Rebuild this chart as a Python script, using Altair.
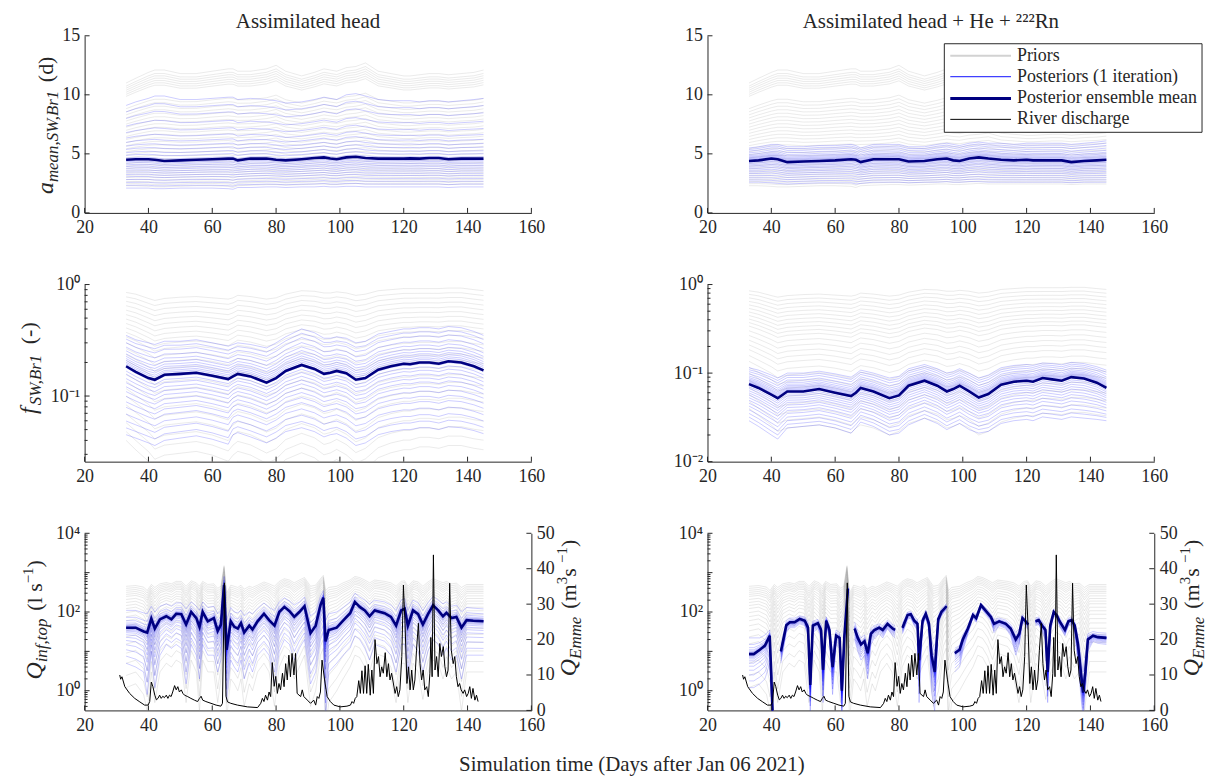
import math
import altair as alt
import pandas as pd

FONT = "Liberation Serif"
INK = "#262626"
W, H = 449, 178

# ---------------- data ----------------
X_TICKS = [20, 40, 60, 80, 100, 120, 140, 160]

# knots for the top and middle rows (days)
t_s = [33, 36, 40, 42, 45, 50, 55, 60, 65, 66.5, 68, 72, 77, 80, 83, 88, 92, 95, 97, 99,
       102, 105, 108, 112, 116, 120, 122, 125, 128, 131, 134, 138, 142, 145]

# a_mean,SW,Br1 (d)
a_prior_lo = [2.3, 2.3, 2.25, 2.2, 2.2, 2.25, 2.3, 2.3, 2.25, 2.15, 2.3, 2.35, 2.4, 2.4, 2.35, 2.4, 2.45,
              2.45, 2.4, 2.4, 2.45, 2.5, 2.45, 2.45, 2.45, 2.45, 2.45, 2.45, 2.45, 2.45, 2.4, 2.45, 2.45, 2.45]
a_prior_hi = [11.0, 11.4, 11.9, 12.1, 12.1, 11.8, 11.8, 12.0, 12.2, 12.2, 12.0, 12.0, 12.2, 12.5, 12.0, 11.6,
              11.9, 12.2, 12.1, 12.0, 12.3, 12.4, 12.7, 12.0, 11.8, 11.6, 11.6, 11.7, 11.8, 11.8, 11.7, 11.8, 11.9, 12.1]
a_prior_f = [0, .02, .04, .06, .08, .1, .12, .14, .165, .19, .215, .24, .27, .3, .33, .36, .39, .42, .45,
             .48, .51, .54, .57, .6, .63, .66, .69, .72, .75, .87, .89, .91, .93, .95, .97, 1.0]

a_mean_head = [4.5, 4.55, 4.55, 4.5, 4.4, 4.45, 4.5, 4.55, 4.6, 4.6, 4.45, 4.6, 4.6, 4.5, 4.45, 4.55, 4.65,
               4.7, 4.6, 4.55, 4.7, 4.75, 4.65, 4.6, 4.6, 4.6, 4.62, 4.6, 4.65, 4.65, 4.55, 4.6, 4.6, 4.6]
a_post_hi_head = [9.1, 9.4, 9.7, 9.9, 9.9, 9.6, 9.6, 9.7, 9.8, 9.8, 9.6, 9.7, 9.6, 9.5, 9.3, 9.4, 9.6, 9.8,
                  9.7, 9.6, 10.0, 10.1, 9.9, 9.6, 9.5, 9.5, 9.5, 9.4, 9.5, 9.5, 9.4, 9.5, 9.6, 9.7]
a_post_lo_head = [2.1, 2.1, 2.1, 2.05, 2.05, 2.1, 2.1, 2.1, 2.05, 2.0, 2.15, 2.15, 2.2, 2.2, 2.15, 2.2, 2.2,
                  2.25, 2.2, 2.2, 2.25, 2.25, 2.2, 2.2, 2.2, 2.2, 2.2, 2.2, 2.2, 2.2, 2.15, 2.2, 2.2, 2.2]

a_mean_all = [4.4, 4.45, 4.6, 4.55, 4.3, 4.35, 4.4, 4.45, 4.55, 4.5, 4.3, 4.55, 4.55, 4.55, 4.35, 4.4, 4.55,
              4.6, 4.45, 4.4, 4.6, 4.7, 4.6, 4.5, 4.45, 4.5, 4.45, 4.45, 4.45, 4.45, 4.3, 4.4, 4.45, 4.5]
a_post_hi_all = [5.5, 5.6, 5.8, 5.8, 5.6, 5.6, 5.7, 5.7, 5.8, 5.7, 5.5, 5.8, 5.8, 5.8, 5.6, 5.6, 5.8, 5.9,
                 5.8, 5.7, 5.9, 6.0, 5.9, 5.9, 5.8, 5.9, 5.9, 5.9, 5.9, 5.9, 5.8, 5.9, 6.0, 6.1]
a_post_lo_all = [2.6, 2.6, 2.55, 2.5, 2.45, 2.5, 2.55, 2.55, 2.55, 2.45, 2.5, 2.6, 2.6, 2.6, 2.55, 2.6, 2.6,
                 2.65, 2.6, 2.6, 2.65, 2.65, 2.6, 2.6, 2.6, 2.6, 2.6, 2.6, 2.6, 2.6, 2.55, 2.6, 2.6, 2.6]

# f_SW,Br1 (-)
f_prior_hi = [0.85, 0.82, 0.75, 0.72, 0.75, 0.77, 0.78, 0.76, 0.74, 0.76, 0.8, 0.78, 0.74, 0.76, 0.82, 0.88,
              0.87, 0.84, 0.84, 0.86, 0.84, 0.8, 0.82, 0.88, 0.9, 0.92, 0.92, 0.92, 0.92, 0.92, 0.93, 0.93, 0.9, 0.88]
f_prior_lo = [0.04, 0.033, 0.026, 0.022, 0.024, 0.025, 0.026, 0.024, 0.021, 0.024, 0.026, 0.024, 0.02, 0.022,
              0.027, 0.031, 0.028, 0.024, 0.025, 0.027, 0.024, 0.02, 0.022, 0.028, 0.031, 0.033, 0.033, 0.035,
              0.035, 0.034, 0.036, 0.036, 0.034, 0.033]
f_prior_f = [0, .06, .12, .18, .24, .3, .35, .4, .45, .5, .54, .58, .62, .66, .7, .73, .76, .79, .82, .85,
             .88, .91, .94, .97, 1.0]

f_mean_head = [0.185, 0.165, 0.145, 0.14, 0.155, 0.158, 0.162, 0.152, 0.142, 0.15, 0.158, 0.15, 0.132, 0.145,
               0.168, 0.19, 0.175, 0.158, 0.162, 0.168, 0.16, 0.14, 0.145, 0.172, 0.185, 0.195, 0.193, 0.2,
               0.2, 0.195, 0.205, 0.2, 0.185, 0.17]
f_post_hi_head = [0.35, 0.32, 0.3, 0.29, 0.31, 0.31, 0.32, 0.3, 0.28, 0.29, 0.3, 0.29, 0.27, 0.3, 0.34, 0.4,
                  0.37, 0.33, 0.33, 0.34, 0.33, 0.3, 0.31, 0.36, 0.38, 0.4, 0.4, 0.41, 0.41, 0.4, 0.42, 0.41,
                  0.38, 0.35]
f_post_lo_head = [0.045, 0.042, 0.038, 0.036, 0.04, 0.042, 0.044, 0.041, 0.037, 0.045, 0.047, 0.043, 0.038,
                  0.042, 0.048, 0.052, 0.048, 0.043, 0.045, 0.046, 0.042, 0.036, 0.038, 0.045, 0.048, 0.05,
                  0.05, 0.052, 0.052, 0.05, 0.053, 0.052, 0.049, 0.046]

f_mean_all = [0.075, 0.068, 0.057, 0.052, 0.062, 0.062, 0.066, 0.06, 0.055, 0.06, 0.068, 0.062, 0.052, 0.056,
              0.072, 0.082, 0.072, 0.062, 0.066, 0.072, 0.062, 0.053, 0.058, 0.074, 0.08, 0.082, 0.08, 0.088,
              0.085, 0.082, 0.09, 0.087, 0.078, 0.068]
f_post_hi_all = [0.115, 0.108, 0.095, 0.088, 0.1, 0.1, 0.105, 0.098, 0.09, 0.098, 0.108, 0.1, 0.088, 0.092,
                 0.112, 0.125, 0.112, 0.1, 0.104, 0.112, 0.1, 0.088, 0.095, 0.115, 0.122, 0.125, 0.122, 0.13,
                 0.128, 0.124, 0.132, 0.128, 0.118, 0.108]
f_post_lo_all = [0.029, 0.025, 0.02, 0.018, 0.024, 0.025, 0.026, 0.024, 0.021, 0.024, 0.028, 0.025, 0.02,
                 0.021, 0.026, 0.031, 0.027, 0.023, 0.025, 0.027, 0.023, 0.021, 0.022, 0.027, 0.029, 0.03,
                 0.029, 0.032, 0.031, 0.03, 0.032, 0.031, 0.03, 0.029]

# posterior member positions inside the read envelope (-1 = lowest, 0 = mean, 1 = highest)
post_u = [-1, -0.9, -0.8, -0.7, -0.6, -0.52, -0.44, -0.37, -0.3, -0.24, -0.18, -0.12, -0.07, -0.02, 0.03,
          0.08, 0.13, 0.19, 0.25, 0.32, 0.4, 0.5, 0.62, 0.76, 0.88, 1]
post_u_q = [-1, -0.8, -0.62, -0.48, -0.36, -0.27, -0.2, -0.14, -0.1, -0.07, -0.045, -0.025, -0.01, 0.0,
            0.015, 0.035, 0.06, 0.09, 0.13, 0.19, 0.27, 0.4, 0.6, 1]

# Q_inf,top (l s^-1) -- assimilated head
t_qh = [33, 36, 38.5, 39.6, 40.9, 42, 43.6, 45.6, 47.2, 48.7, 50.3, 51.8, 53.4, 55, 56, 57, 58.6, 60.5,
        61.7, 62.7, 63.7, 64.5, 65.8, 66.9, 68, 69, 70, 71.6, 72.6, 74.2, 76.2, 77.8, 79.5, 81, 82.6, 84.2,
        85.7, 87.3, 88.9, 90.8, 92.4, 93.9, 94.8, 95.5, 96.5, 99, 101, 103.2, 104.7, 106.2, 107.8, 109.3,
        110.9, 114, 116, 117.6, 119.2, 120.3, 121.3, 122.9, 124.5, 126, 127.6, 129.2, 130.8, 132.3, 133.4,
        135, 136.5, 138.1, 139.7, 141.8, 145]
q_mean_head = [40, 40, 32, 30, 68, 38, 65, 78, 65, 90, 88, 48, 100, 70, 42, 100, 58, 70, 33, 48, 480, 11,
               58, 42, 38, 52, 30, 45, 36, 58, 90, 62, 45, 100, 135, 105, 75, 100, 140, 29, 45, 148, 230, 18,
               35, 40, 60, 93, 180, 135, 110, 78, 110, 93, 75, 45, 110, 120, 45, 110, 88, 48, 88, 148, 110,
               78, 95, 70, 75, 40, 62, 60, 58]
q_hi_head = [110, 110, 95, 90, 140, 100, 140, 160, 140, 170, 170, 120, 180, 140, 110, 180, 130, 140, 90, 110,
             800, 60, 130, 100, 95, 110, 80, 100, 90, 120, 170, 130, 110, 180, 230, 190, 150, 180, 240, 80,
             100, 250, 350, 60, 90, 100, 130, 180, 300, 240, 200, 160, 200, 180, 150, 110, 200, 220, 110, 200,
             170, 110, 170, 250, 200, 160, 180, 140, 150, 100, 130, 125, 120]
q_lo_head = [5, 4, 3, 0.8, 10, 1.2, 8, 15, 12, 15, 12, 1.5, 15, 8, 2, 15, 8, 8, 3, 6, 100, 0.6, 6, 4, 3, 6,
             2, 5, 3, 8, 12, 8, 1.5, 10, 20, 15, 6, 12, 20, 1.5, 3, 20, 30, 0.2, 3, 5, 8, 12, 25, 20, 12, 6,
             15, 12, 8, 3, 15, 15, 2, 15, 10, 3, 10, 20, 15, 8, 12, 6, 8, 2, 8, 8, 8]
# priors (same ensemble in both columns), on the t_qh knots
q_prior_hi = [450, 470, 430, 350, 500, 420, 520, 560, 520, 600, 600, 450, 620, 550, 450, 600, 500, 520, 400,
              450, 1500, 300, 480, 450, 420, 480, 380, 450, 420, 480, 580, 520, 450, 600, 700, 650, 550, 650,
              750, 450, 480, 700, 850, 350, 420, 450, 550, 650, 800, 750, 650, 550, 650, 600, 550, 450, 600,
              620, 450, 620, 580, 450, 580, 700, 620, 550, 600, 520, 540, 420, 500, 500, 500]
q_prior_lo = [1.2, 1.5, 0.8, 0.3, 3, 0.5, 3, 5, 4, 6, 5, 0.5, 6, 3, 0.3, 6, 3, 3, 0.5, 2, 40, 0.2, 2, 1.5, 1,
              2, 0.4, 1.5, 1, 3, 5, 3, 0.4, 4, 8, 6, 2, 4, 8, 0.4, 1, 8, 12, 0.1, 0.5, 1, 2, 4, 8, 7, 4, 1.5,
              5, 4, 2, 0.5, 5, 5, 0.5, 5, 3, 0.6, 3, 6, 5, 2, 4, 2, 3, 0.3, 3, 3, 3]
q_prior_f = [0, .12, .24, .34, .43, .5, .56, .61, .66, .7, .74, .78, .81, .84, .87, .9, .92, .94, .96, .98, 1.0]

# Q_inf,top -- head + He + 222Rn (None = gap in the record)
t_qa = [33, 34.5, 36.4, 38, 39.5, 40.4, 40.6, 43, 44.7, 45.8, 47.3, 48.9, 50.5, 51.5, 52.2, 53, 54.6, 55.6,
        56.2, 57.2, 58.2, 59.2, 60.3, 61.4, 62.1, 62.9, 64, 64.3, 66.1, 67.1, 68.1, 69.2, 70.2, 71.2, 72.3,
        73.8, 74.9, 76.4, 78, 78.8, 79.5, 81.1, 82.7, 83.7, 84.8, 85.8, 86.3, 87.4, 88.4, 89.4, 90.2, 91.2,
        92.3, 93.3, 94.9, 95.4, 97.5, 99, 100, 101.6, 103.2, 104.2, 105.7, 107.3, 108.8, 109.8, 111.4, 113.5,
        115, 116.6, 117.7, 118.7, 119.7, 120.5, 121.3, 122.8, 123.8, 124.9, 125.9, 126.6, 127.4, 128.5, 129.5,
        130.5, 132, 133.1, 134.1, 135.1, 136.1, 137.2, 137.7, 138.4, 139.2, 140.8, 142.3, 145]
q_mean_all = [8.5, 8.5, 11, 14, 25, 0.3, None, 10, 46, 55, 55, 67, 60, 40, 1.4, 45, 52, 35, 3.4, 60, 35, 4,
              25, 22, 1, 25, 390, None, 38, 22, 15, 18, 9, 28, 35, 40, 35, 50, 38, 35, None, 40, 84, 88, 60,
              50, 6, 60, 90, 50, 8, 3, 65, 100, 140, None, 9, 11, 20, 38, 84, 70, 150, 105, 75, 50, 58, 50,
              38, 20, 28, 70, 58, 48, None, 58, 62, 45, 35, 3, 45, 100, 80, 55, 35, 58, 62, 45, 15, 2.1, 0.9,
              3, 20, 25, 23, 22]
q_hi_all = [22, 22, 22, 26, 35, 2, None, 14, 60, 70, 70, 80, 75, 55, 4, 58, 65, 48, 8, 75, 48, 10, 35, 30, 3,
            35, 450, None, 55, 32, 22, 26, 14, 38, 45, 50, 45, 62, 48, 45, None, 52, 100, 105, 75, 65, 15, 75,
            110, 65, 20, 10, 80, 120, 165, None, 12, 14, 26, 46, 100, 85, 170, 125, 90, 65, 70, 62, 48, 30, 38,
            85, 70, 60, None, 70, 75, 56, 45, 8, 56, 120, 95, 68, 45, 70, 75, 56, 25, 6, 3, 8, 28, 32, 30, 29]
q_lo_all = [1.2, 1.2, 1.5, 2, 5, 0.1, None, 5, 30, 40, 40, 50, 45, 25, 0.3, 30, 38, 22, 0.5, 45, 22, 0.8, 15,
            12, 0.2, 15, 300, None, 20, 10, 6, 8, 2, 15, 22, 28, 22, 38, 25, 22, None, 28, 65, 70, 45, 35, 0.5,
            45, 70, 35, 1, 0.3, 50, 80, 115, None, 3, 4, 10, 28, 70, 55, 125, 85, 60, 30, 45, 38, 25, 8, 15,
            55, 45, 35, None, 45, 48, 30, 20, 0.5, 30, 80, 65, 40, 25, 45, 48, 30, 5, 0.5, 0.2, 1, 10, 18, 16, 15]

# River discharge Q_Emme (m3 s-1)
river_t = [31.0, 31.3, 31.7, 32.6, 34.1, 35.7, 37.3, 38.8, 39.9, 40.4, 40.9, 41.4, 42.0, 42.5, 43.0, 43.5,
           44.0, 44.5, 45.0, 45.6, 46.1, 46.6, 47.1, 47.6, 48.2, 48.7, 49.2, 49.7, 50.3, 50.8, 51.3, 52.3,
           53.3, 54.4, 55.4, 56.0, 56.5, 57.0, 58.0, 59.6, 61.2, 62.7, 63.2, 63.8, 64.3, 64.8, 65.8, 67.9,
           71.0, 74.2, 75.2, 75.7, 76.2, 76.7, 77.3, 77.8, 78.3, 78.8, 79.4, 79.9, 80.4, 80.9, 81.4, 82.0,
           82.5, 83.0, 83.5, 84.0, 84.5, 85.0, 85.6, 86.1, 86.6, 87.7, 88.2, 88.7, 89.8, 90.8, 91.8, 92.4,
           92.9, 93.4, 93.9, 94.4, 95.2, 96.0, 97.0, 98.1, 100.1, 102.2, 103.3, 103.8, 104.3, 104.8, 105.3,
           105.9, 106.4, 106.9, 107.4, 107.9, 108.4, 108.9, 109.5, 110.0, 110.5, 111.0, 111.6, 112.1, 112.6,
           113.1, 113.6, 114.2, 114.7, 115.2, 115.7, 116.2, 117.3, 117.8, 118.3, 118.8, 119.4, 119.9, 120.4,
           121.0, 121.5, 122.0, 122.5, 123.0, 123.5, 124.0, 124.6, 125.1, 125.6, 126.1, 126.6, 127.2, 127.7,
           128.2, 128.5, 128.9, 129.3, 129.8, 130.3, 130.8, 131.3, 131.8, 132.4, 132.9, 133.4, 133.9, 134.4,
           134.9, 135.5, 136.0, 136.5, 137.0, 137.5, 138.0, 138.6, 139.1, 139.7, 140.2, 140.7, 141.2, 141.7,
           142.3, 142.8, 143.3]
river_q = [10.0, 8.8, 9.5, 6.7, 4.8, 3.4, 2.4, 1.5, 1.5, 2.5, 8.0, 6.7, 4.3, 3.0, 3.4, 4.3, 3.4, 4.0, 3.6,
           4.3, 3.4, 4.3, 3.9, 5.2, 7.0, 5.8, 6.7, 5.2, 5.8, 4.8, 4.3, 3.9, 3.4, 2.9, 2.5, 3.4, 4.0, 2.9, 2.5,
           2.0, 1.5, 1.2, 2.0, 36.0, 4.0, 2.4, 2.0, 1.5, 1.0, 0.8, 2.0, 3.4, 2.5, 4.3, 2.9, 5.2, 3.9, 13.5,
           6.8, 9.6, 4.8, 7.6, 5.8, 10.5, 6.7, 13.2, 8.6, 15.6, 9.5, 16.1, 10.0, 16.1, 4.8, 3.9, 5.8, 3.9,
           2.9, 2.0, 2.9, 1.5, 3.9, 3.4, 5.2, 14.2, 8.6, 3.9, 2.5, 1.5, 1.0, 1.2, 1.5, 2.5, 2.0, 3.4, 3.9,
           8.4, 4.8, 11.2, 4.8, 12.6, 4.8, 13.0, 4.3, 11.4, 4.8, 20.0, 13.2, 15.2, 9.5, 12.3, 10.5, 16.3,
           9.5, 13.2, 8.6, 10.5, 4.8, 6.7, 3.9, 5.8, 15.2, 35.4, 24.6, 7.6, 12.3, 5.8, 11.4, 5.8, 8.6, 17.0,
           24.6, 13.2, 8.6, 11.4, 5.8, 6.7, 3.9, 10.5, 20.6, 9.5, 43.9, 11.4, 15.2, 9.5, 18.9, 15.2, 18.0,
           12.3, 9.5, 11.4, 35.9, 17.0, 13.2, 15.2, 9.5, 6.7, 7.6, 5.8, 4.8, 5.8, 3.9, 4.8, 6.7, 3.4, 6.2,
           2.9, 4.3, 2.5]

# ---------------- helpers ----------------
ONE = pd.DataFrame({"z": [0]})


def env_log(lo, mid, hi, u):
    out = []
    for a, m, b in zip(lo, mid, hi):
        if m is None:
            out.append(None)
            continue
        lm = math.log(m)
        edge = b if u >= 0 else a
        out.append(math.exp(lm + abs(u) * (math.log(edge) - lm)))
    return out


def env_lin(lo, mid, hi, u):
    out = []
    for a, m, b in zip(lo, mid, hi):
        edge = b if u >= 0 else a
        out.append(m + abs(u) * (edge - m))
    return out


def band_log(lo, hi, f):
    return [math.exp(math.log(a) + f * (math.log(b) - math.log(a))) for a, b in zip(lo, hi)]


def band_lin(lo, hi, f):
    return [a + f * (b - a) for a, b in zip(lo, hi)]


def to_rows(t, vals, key):
    rows, seg = [], 0
    for ti, v in zip(t, vals):
        if v is None:
            seg += 1
            continue
        rows.append({"t": ti, "v": v, "k": f"{key}_{seg}"})
    return rows


REG = {'a': 444, 'b': 500, 'c': 444, 'd': 500, 'e': 444, 'f': 333, 'i': 278, 'l': 278, 'm': 778, 'n': 500,
       'o': 500, 'p': 500, 'r': 333, 's': 389, 't': 278, ' ': 250, '(': 333, ')': 333, ',': 250, '-': 333,
       '\u2212': 564}
ITA = {'a': 500, 'e': 444, 'f': 278, 'i': 278, 'm': 722, 'n': 500, 'o': 500, 'p': 500, 'r': 389, 't': 278,
       'E': 611, 'B': 611, 'S': 500, 'W': 833, 'Q': 722, ',': 250}


def tw(s, size, italic):
    tb = ITA if italic else REG
    return sum(tb.get(c, 500) for c in s) / 1000.0 * size


def txt(s, x, y, size, italic=False, angle=None, align="left", baseline="alphabetic"):
    kw = dict(font=FONT, fontSize=size, color=INK, align=align, baseline=baseline)
    if italic:
        kw["fontStyle"] = "italic"
    if angle is not None:
        kw["angle"] = angle
    return alt.Chart(ONE).mark_text(**kw).encode(x=alt.value(x), y=alt.value(y), text=alt.value(s))


def ytitle(pieces, xb, yc):
    def wid(p):
        return p[1] if p[0] is None else tw(p[0], p[1], p[2])
    total = sum(wid(p) for p in pieces)
    y = yc + total / 2.0
    out = []
    for p in pieces:
        if p[0] is not None:
            out.append(txt(p[0], xb + p[3], y, p[1], p[2], angle=270))
        y -= wid(p)
    return out


x_axis = alt.Axis(values=X_TICKS, ticks=False, grid=False, title=None, labelFont=FONT, labelFontSize=18,
                  labelColor=INK, domainColor=INK, domainWidth=1, labelPadding=6, labelFlush=False, format="d")
x_enc = alt.X("t:Q", scale=alt.Scale(domain=[20, 160], nice=False, zero=False), axis=x_axis)

LOG_EXPR = ("datum.value >= 5000 ? '10\u2074' : datum.value >= 50 ? '10\u00b2' : datum.value >= 0.5 ? "
            "'10\u2070' : datum.value >= 0.05 ? '10\u207b\u00b9' : '10\u207b\u00b2'")


def y_axis(values, expr=None, orient="left"):
    kw = dict(values=values, ticks=False, grid=False, title=None, labelFont=FONT, labelFontSize=18,
              labelColor=INK, domainColor=INK, domainWidth=1, labelPadding=5, orient=orient)
    if expr:
        kw["labelExpr"] = expr
    return alt.Axis(**kw)


def rule_x_ticks():
    return alt.Chart(pd.DataFrame({"t": X_TICKS})).mark_rule(color=INK, strokeWidth=1).encode(
        x=x_enc, y=alt.value(H), y2=alt.value(H - 5))


def rule_y_ticks(vals, length, y_enc, field="v", right=False):
    x0 = W if right else 0
    x1 = W - length if right else length
    return alt.Chart(pd.DataFrame({field: vals})).mark_rule(color=INK, strokeWidth=1).encode(
        x=alt.value(x0), x2=alt.value(x1), y=y_enc)


def log_ticks(lo, hi):
    major, minor = [], []
    for e in range(-3, 5):
        for m in range(1, 10):
            v = m * 10.0 ** e
            if lo * 0.999 <= v <= hi * 1.001:
                (major if m == 1 else minor).append(v)
    return major, minor


def ensemble(prior_rows, post_rows, mean_rows, y_enc, post_op=0.2, prior_op=0.22):
    pri = alt.Chart(pd.DataFrame(prior_rows)).mark_line(
        clip=True, color="#9a9a9a", strokeWidth=1, opacity=prior_op).encode(x=x_enc, y=y_enc, detail="k:N")
    pos = alt.Chart(pd.DataFrame(post_rows)).mark_line(
        clip=True, color="#0000ff", strokeWidth=1, opacity=post_op).encode(x=x_enc, y=y_enc, detail="k:N")
    mea = alt.Chart(pd.DataFrame(mean_rows)).mark_line(
        clip=True, color="#000080", strokeWidth=2.6).encode(x=x_enc, y=y_enc, detail="k:N")
    return [pri, pos, mea]


def rows_prior_lin(t, lo, hi, fs):
    r = []
    for i, f in enumerate(fs):
        r += to_rows(t, band_lin(lo, hi, f), f"p{i}")
    return r


def rows_prior_log(t, lo, hi, fs):
    r = []
    for i, f in enumerate(fs):
        r += to_rows(t, band_log(lo, hi, f), f"p{i}")
    return r


def rows_post(t, lo, mid, hi, us, log):
    r = []
    for i, u in enumerate(us):
        vals = env_log(lo, mid, hi, u) if log else env_lin(lo, mid, hi, u)
        r += to_rows(t, vals, f"q{i}")
    return r


TITLE_KW = dict(font=FONT, fontSize=21, fontWeight="normal", color=INK, offset=-5)

# y-title pieces: (text, size, italic, baseline shift) ; (None, gap)
T_A = [("a", 24, True, 0), ("mean,SW,Br1", 17, True, 5), (None, 7), ("(d)", 22, False, 0)]
T_F = [("f", 24, True, 0), (None, 2), ("SW,Br1", 17, True, 5), (None, 9), ("(-)", 22, False, 0)]
T_Q = [("Q", 24, True, 0), ("inf,top", 17, True, 5), (None, 8), ("(l s", 22, False, 0),
       ("\u22121", 15, False, -9), (")", 22, False, 0)]
T_E = [("Q", 24, True, 0), ("Emme", 17, True, 5), (None, 8), ("(m", 22, False, 0), ("3", 15, False, -9),
       (" s", 22, False, 0), ("\u22121", 15, False, -9), (")", 22, False, 0)]


# ---------------- panels ----------------
def top_panel(mean, lo, hi, title, left_title, legend=False):
    y_enc = alt.Y("v:Q", scale=alt.Scale(domain=[0, 15], nice=False, zero=False),
                  axis=y_axis([0, 5, 10, 15]))
    layers = ensemble(rows_prior_lin(t_s, a_prior_lo, a_prior_hi, a_prior_f),
                      rows_post(t_s, lo, mean, hi, post_u, False),
                      to_rows(t_s, mean, "m"), y_enc, post_op=0.2, prior_op=0.2)
    layers += [rule_x_ticks(), rule_y_ticks([0, 5, 10, 15], 5, y_enc)]
    if left_title:
        layers += ytitle(T_A, -32, 90)
    if legend:
        layers.append(alt.Chart(ONE).mark_rect(fill="white", stroke=INK, strokeWidth=1).encode(
            x=alt.value(238), x2=alt.value(497), y=alt.value(8), y2=alt.value(97)))
        entries = [("Priors", "#d2d2d2", 2, 20), ("Posteriors (1 iteration)", "#4040ff", 1.2, 41),
                   ("Posterior ensemble mean", "#000080", 3, 63), ("River discharge", "#000000", 1, 84)]
        for lab, col, sw, yy in entries:
            layers.append(alt.Chart(ONE).mark_rule(color=col, strokeWidth=sw).encode(
                x=alt.value(244), x2=alt.value(305), y=alt.value(yy)))
            layers.append(txt(lab, 311, yy, 18, baseline="middle"))
    return alt.layer(*layers).properties(width=W, height=H, title=alt.TitleParams(title, **TITLE_KW))


def mid_panel(mean, lo, hi, dom, labels, left_title):
    y_enc = alt.Y("v:Q", scale=alt.Scale(type="log", domain=dom, nice=False, zero=False),
                  axis=y_axis(labels, LOG_EXPR))
    major, minor = log_ticks(dom[0], dom[1])
    layers = ensemble(rows_prior_log(t_s, f_prior_lo, f_prior_hi, f_prior_f),
                      rows_post(t_s, lo, mean, hi, post_u, True),
                      to_rows(t_s, mean, "m"), y_enc, post_op=0.2, prior_op=0.2)
    layers += [rule_x_ticks(), rule_y_ticks(major, 5, y_enc), rule_y_ticks(minor, 3, y_enc)]
    if left_title:
        layers += ytitle(T_F, -49, 84)
    return alt.layer(*layers).properties(width=W, height=H)


def bottom_panel(t, mean, lo, hi, left_title, xlabel=False):
    dom = [10 ** -0.5, 10000]
    y_enc = alt.Y("v:Q", scale=alt.Scale(type="log", domain=dom, nice=False, zero=False),
                  axis=y_axis([1, 100, 10000], LOG_EXPR))
    major, minor = log_ticks(dom[0], dom[1])
    layers = ensemble(rows_prior_log(t_qh, q_prior_lo, q_prior_hi, q_prior_f),
                      rows_post(t, lo, mean, hi, post_u_q, True),
                      to_rows(t, mean, "m"), y_enc, post_op=0.2, prior_op=0.22)
    layers += [rule_x_ticks(), rule_y_ticks(major, 5, y_enc), rule_y_ticks(minor, 3, y_enc)]
    if left_title:
        layers += ytitle(T_Q, -43, 87)
    layers += ytitle(T_E, 494, 75)
    if xlabel:
        layers.append(txt("Simulation time (Days after Jan 06 2021)", 550, 233, 21, align="center",
                          baseline="middle"))
    A = alt.layer(*layers)
    yr = alt.Y("q:Q", scale=alt.Scale(domain=[0, 50], nice=False, zero=False),
               axis=y_axis([0, 10, 20, 30, 40, 50], orient="right"))
    river = alt.Chart(pd.DataFrame({"t": river_t, "q": river_q})).mark_line(
        color="#000000", strokeWidth=1).encode(x=x_enc, y=yr)
    B = alt.layer(river, rule_y_ticks([0, 10, 20, 30, 40, 50], 5, yr, field="q", right=True))
    return alt.layer(A, B).resolve_scale(y="independent").properties(width=W, height=H)


TL = top_panel(a_mean_head, a_post_lo_head, a_post_hi_head, "Assimilated head", True)
TR = top_panel(a_mean_all, a_post_lo_all, a_post_hi_all, "Assimilated head + He + \u00b2\u00b2\u00b2Rn",
               False, legend=True)
ML = mid_panel(f_mean_head, f_post_lo_head, f_post_hi_head, [0.0258, 1], [0.1, 1], True)
MR = mid_panel(f_mean_all, f_post_lo_all, f_post_hi_all, [0.01, 1], [0.01, 0.1, 1], False)
BL = bottom_panel(t_qh, q_mean_head, q_lo_head, q_hi_head, True, xlabel=True)
BR = bottom_panel(t_qa, q_mean_all, q_lo_all, q_hi_all, False)

chart = alt.concat(TL, TR, ML, MR, BL, BR, columns=2, spacing={"row": 72, "column": 177},
                   bounds="flush").properties(
    padding={"left": 9, "top": 1, "right": 0, "bottom": 0}, background="white"
).configure_view(stroke=None)

chart.save("out.html", embed_options={"renderer": "svg", "actions": False})
